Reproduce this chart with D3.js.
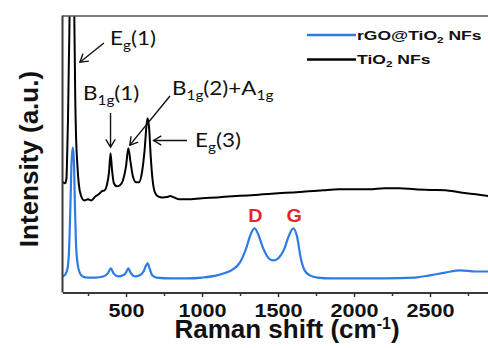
<!DOCTYPE html>
<html>
<head>
<meta charset="utf-8">
<script src="https://cdn.jsdelivr.net/npm/d3@7"></script>
<style>
  html, body { margin: 0; padding: 0; background: #fff; }
  svg { display: block; }
</style>
</head>
<body>
<svg id="chart" width="488" height="348"></svg>
<script>
// TiO2 nanofibres: Raman shift (cm-1) and intensity (a.u.)
const tio2Shift = [82, 100, 108, 112, 118, 124, 128, 135, 144, 152, 160, 166, 172, 180, 190, 205, 225, 250, 270, 300, 320, 340, 360, 375, 388, 398, 408, 420, 440, 460, 480, 500, 515, 528, 545, 565, 585, 605, 622, 635, 642, 652, 662, 675, 690, 710, 740, 770, 790, 815, 850, 900, 1000, 1100, 1200, 1300, 1400, 1500, 1600, 1700, 1800, 1900, 2000, 2100, 2200, 2300, 2400, 2500, 2600, 2700, 2800, 2900, 3000];
const tio2Intensity = [40.0, 39.5, 41.3, 47.8, 62.3, 84.0, 98.5, 178, 410, 178, 98.5, 69.6, 55.0, 46.0, 38.8, 34.8, 33.3, 33.7, 33.3, 34.8, 35.5, 36.6, 37.0, 39.1, 43.5, 50.4, 44.2, 39.5, 38.4, 38.8, 40.6, 45.7, 52.2, 47.8, 42.0, 39.9, 39.9, 43.5, 51.4, 60.5, 63.0, 59.4, 49.6, 40.6, 36.2, 34.8, 34.4, 34.5, 34.9, 34.4, 33.7, 33.7, 34.1, 34.4, 34.8, 35.1, 35.5, 35.9, 36.2, 36.6, 37.0, 37.3, 37.3, 37.3, 37.7, 37.7, 37.3, 37.1, 37.0, 36.2, 35.5, 34.8, 34.4];

// rGO@TiO2 nanofibres: Raman shift (cm-1) and intensity (a.u.)
const rgoShift = [82, 100, 115, 125, 135, 142, 150, 157, 163, 170, 180, 195, 215, 250, 300, 350, 380, 400, 418, 450, 480, 500, 515, 530, 560, 590, 615, 632, 642, 655, 672, 700, 800, 900, 1000, 1100, 1160, 1200, 1250, 1290, 1320, 1345, 1370, 1400, 1440, 1470, 1500, 1540, 1570, 1600, 1625, 1650, 1675, 1710, 1760, 1850, 2000, 2200, 2400, 2500, 2600, 2700, 2800, 2900, 3000];
const rgoIntensity = [5.8, 6.5, 8.7, 15.2, 33.3, 47.8, 52.5, 47.8, 33.3, 18.8, 10.9, 7.2, 5.8, 5.4, 5.4, 5.8, 6.9, 8.7, 6.9, 5.8, 6.2, 7.2, 8.7, 7.2, 5.8, 6.2, 7.6, 9.8, 10.5, 8.7, 6.2, 5.4, 5.1, 5.1, 5.4, 6.2, 7.2, 8.3, 10.9, 15.9, 21.0, 23.2, 21.0, 16.3, 12.3, 11.6, 12.3, 15.6, 20.3, 23.2, 20.3, 12.3, 8.0, 6.2, 5.4, 5.1, 5.1, 5.1, 5.4, 6.2, 7.2, 8.0, 7.6, 7.6, 7.6];

const seriesNames = ["rGO@TiO", "TiO"];
const seriesColors = ["#2e7be3", "#000000"];

const majorTicks = [500, 1000, 1500, 2000, 2500];
const minorTicks = [250, 750, 1250, 1750, 2250, 2750];

// Phonon modes of anatase marked on the TiO2 trace
const modeShift = [144, 398, 515, 642];
const modeIntensity = [84.0, 50.4, 52.2, 63.0];

// Carbon bands marked on the rGO trace
const bandNames = ["D", "G"];
const bandShift = [1345, 1600];
const bandIntensity = [23.2, 23.2];

const svg = d3.select("#chart");
const plotLeft = 62.5, plotRight = 506, plotTop = 16, plotBottom = 292.5;

const x = d3.scaleLinear().domain([82, 3000]).range([plotLeft, plotRight]);
const y = d3.scaleLinear().domain([0, 100]).range([plotBottom, plotTop]);

svg.append("defs").append("clipPath").attr("id", "plotClip")
  .append("rect").attr("x", plotLeft).attr("y", plotTop)
  .attr("width", plotRight - plotLeft).attr("height", plotBottom - plotTop);

const line = d3.line()
  .x(d => x(d[0])).y(d => y(d[1]))
  .curve(d3.curveMonotoneX);

const plot = svg.append("g").attr("clip-path", "url(#plotClip)");
plot.append("path")
  .datum(d3.zip(rgoShift, rgoIntensity))
  .attr("d", line).attr("fill", "none")
  .attr("stroke", seriesColors[0]).attr("stroke-width", 2.2)
  .attr("stroke-linejoin", "round");
plot.append("path")
  .datum(d3.zip(tio2Shift, tio2Intensity))
  .attr("d", line).attr("fill", "none")
  .attr("stroke", seriesColors[1]).attr("stroke-width", 2)
  .attr("stroke-linejoin", "round");

// frame: left and top edges
svg.append("line").attr("x1", plotLeft).attr("x2", plotLeft).attr("y1", plotTop - 0.5).attr("y2", plotBottom)
  .attr("stroke", "#3a3a3a").attr("stroke-width", 2);
svg.append("line").attr("x1", plotLeft).attr("x2", plotRight).attr("y1", plotTop).attr("y2", plotTop)
  .attr("stroke", "#555").attr("stroke-width", 1.6);

// x axis with major and minor ticks
const xMinor = svg.append("g").attr("transform", `translate(0,${plotBottom})`)
  .call(d3.axisBottom(x).tickValues(minorTicks).tickSize(3.5).tickFormat(""));
xMinor.select(".domain").remove();
xMinor.selectAll("line").attr("stroke", "#333").attr("stroke-width", 1.5);

const xAxis = svg.append("g").attr("transform", `translate(0,${plotBottom})`)
  .call(d3.axisBottom(x).tickValues(majorTicks).tickSize(4.5).tickSizeOuter(0)
    .tickFormat(d3.format("d")));
xAxis.select(".domain").attr("stroke", "#3a3a3a").attr("stroke-width", 2);
xAxis.selectAll(".tick line").attr("stroke", "#333").attr("stroke-width", 1.5);
xAxis.selectAll(".tick text")
  .attr("y", 25).attr("dy", null)
  .attr("transform", "scale(1.2,1)")
  .attr("fill", "#111")
  .style("font-family", "'Liberation Sans', Arial, sans-serif")
  .style("font-weight", "bold").style("font-size", "18px");

// text helper: runs of normal / subscript / superscript text
function rich(g, parts, subSize, subShift) {
  let shift = 0;
  parts.forEach(([t, kind]) => {
    const target = kind === "sub" ? subShift : kind === "sup" ? -subShift : 0;
    const ts = g.append("tspan").text(t).attr("dy", target - shift);
    if (kind) ts.attr("font-size", subSize);
    shift = target;
  });
}

// axis titles
const xTitle = svg.append("text")
  .attr("transform", "translate(287,338)")
  .attr("text-anchor", "middle")
  .attr("fill", "#111")
  .style("font-family", "'Liberation Sans', Arial, sans-serif")
  .style("font-weight", "bold").style("font-size", "26px");
rich(xTitle, [["Raman shift (cm", null], ["-1", "sup"], [")", null]], "16px", 9);

svg.append("text")
  .attr("transform", "translate(38,159) rotate(-90)")
  .attr("text-anchor", "middle")
  .attr("fill", "#111")
  .style("font-family", "'Liberation Sans', Arial, sans-serif")
  .style("font-weight", "bold").style("font-size", "26px")
  .text("Intensity (a.u.)");

// legend
const legendRows = [
  { y: 35, name: seriesNames[0], color: seriesColors[0] },
  { y: 59.5, name: seriesNames[1], color: seriesColors[1] }
];
legendRows.forEach(r => {
  svg.append("line").attr("x1", 307).attr("x2", 356)
    .attr("y1", r.y).attr("y2", r.y)
    .attr("stroke", r.color).attr("stroke-width", 2.6);
  const t = svg.append("text")
    .attr("transform", `translate(357,${r.y + 4.5}) scale(1.3,1)`)
    .attr("fill", "#111")
    .style("font-family", "'Liberation Sans', Arial, sans-serif")
    .style("font-weight", "bold").style("font-size", "13.5px");
  rich(t, [[r.name, null], ["2", "sub"], [" NFs", null]], "9px", 3);
});

// mode labels with arrows
const annFont = "Lato, 'Open Sans', sans-serif";
function label(tx, ty, parts, sx) {
  const t = svg.append("text")
    .attr("transform", `translate(${tx},${ty}) scale(${sx},1)`)
    .attr("fill", "#111")
    .style("font-family", annFont).style("font-size", "19px");
  rich(t, parts, "13px", 5);
}
function arrow(x1, y1, x2, y2) {
  const a = Math.atan2(y2 - y1, x2 - x1), L = 9, w = 0.55;
  const p = [[x2 - L * Math.cos(a - w), y2 - L * Math.sin(a - w)],
             [x2, y2],
             [x2 - L * Math.cos(a + w), y2 - L * Math.sin(a + w)]];
  svg.append("line").attr("x1", x1).attr("y1", y1).attr("x2", x2).attr("y2", y2)
    .attr("stroke", "#111").attr("stroke-width", 1.4);
  svg.append("path").attr("d", d3.line()(p)).attr("fill", "none")
    .attr("stroke", "#111").attr("stroke-width", 1.4);
}

// Eg(1)
arrow(x(modeShift[0]) + 32, 43, x(modeShift[0]) + 8, y(modeIntensity[0]) + 2);
label(110, 45, [["E", null], ["g", "sub"], ["(1)", null]], 1.18);
// B1g(1)
arrow(x(modeShift[1]), 113, x(modeShift[1]), y(modeIntensity[1]) - 6);
label(83, 100, [["B", null], ["1g", "sub"], ["(1)", null]], 1.18);
// B1g(2)+A1g
arrow(170, 96, x(modeShift[2]) + 1.5, y(modeIntensity[2]) - 3);
label(172, 95, [["B", null], ["1g", "sub"], ["(2)+A", null], ["1g", "sub"]], 1.18);
// Eg(3)
arrow(187, 140.5, x(modeShift[3]) + 6, 140.5);
label(195, 147, [["E", null], ["g", "sub"], ["(3)", null]], 1.18);

// D and G bands
svg.selectAll(".band").data(bandNames).join("text")
  .attr("class", "band")
  .attr("transform", (d, i) => `translate(${x(bandShift[i]) + 1},${y(bandIntensity[i]) - 6}) scale(1.1,1)`)
  .attr("text-anchor", "middle")
  .attr("fill", "#e3262c")
  .style("font-family", "'Liberation Sans', Arial, sans-serif")
  .style("font-weight", "bold").style("font-size", "18px")
  .text(d => d);
</script>
</body>
</html>
